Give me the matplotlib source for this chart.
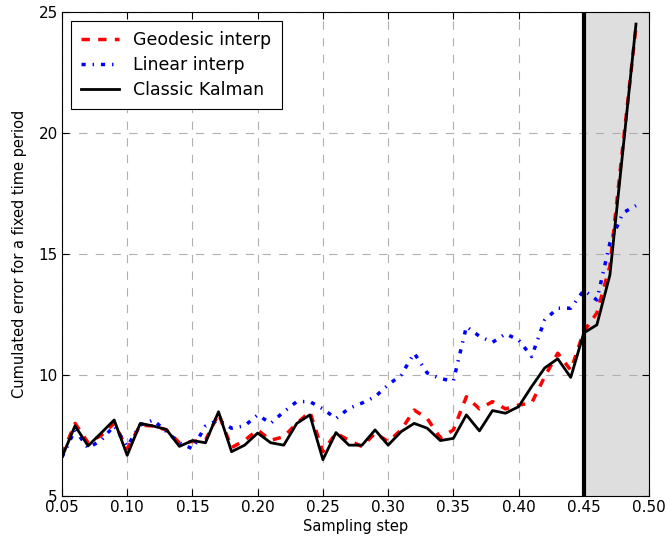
import matplotlib
matplotlib.use("Agg")
import matplotlib.pyplot as plt
import numpy as np

# sampling steps 0.05 .. 0.49
steps = np.round(np.arange(5, 50) / 100.0, 2)

geodesic = [6.7, 8.0, 7.2, 7.5, 8.0, 6.95, 7.93, 7.89, 7.73, 7.2, 7.25, 7.3, 8.4, 7.0, 7.3,
            7.73, 7.3, 7.45, 8.0, 8.48, 6.83, 7.6, 7.3, 7.04, 7.6, 7.25, 7.73, 8.55, 8.2,
            7.4, 7.73, 9.1, 8.6, 8.9, 8.6, 8.76, 8.84, 9.93, 10.9, 10.2, 11.8, 12.56, 14.5, 19.5, 24.4]
linear = [6.6, 7.73, 6.98, 7.3, 7.9, 7.05, 7.93, 8.14, 7.66, 7.2, 6.95, 7.89, 8.14, 7.8, 7.9,
          8.35, 8.0, 8.48, 8.9, 8.9, 8.6, 8.2, 8.62, 8.84, 9.1, 9.59, 10.0, 10.9, 10.08,
          9.85, 9.75, 12.0, 11.6, 11.35, 11.7, 11.45, 10.76, 12.27, 12.76, 12.76, 13.5, 13.1, 15.45, 16.7, 17.0]
kalman = [6.6, 7.9, 7.07, 7.6, 8.14, 6.68, 8.0, 7.89, 7.75, 7.05, 7.29, 7.2, 8.48, 6.83, 7.1,
          7.6, 7.2, 7.1, 8.0, 8.35, 6.5, 7.62, 7.1, 7.1, 7.73, 7.1, 7.66, 8.0, 7.8,
          7.29, 7.38, 8.35, 7.69, 8.53, 8.42, 8.69, 9.52, 10.29, 10.67, 9.9, 11.74, 12.07, 14.13, 19.3, 24.5]

split = 0.45
xticks = np.round(np.arange(5, 51, 5) / 100.0, 2)
yticks = [5, 10, 15, 20, 25]

plt.rcParams['lines.scale_dashes'] = False
plt.rcParams['font.family'] = ['DejaVu Sans']

fig = plt.figure(figsize=(6.65, 5.42), dpi=100)
ax = fig.add_axes([0.0932, 0.0849, 0.8828, 0.893])

ax.axvspan(split, 0.50, color='#dedede', lw=0)
ax.plot(steps, geodesic, color='red', lw=2.5, dashes=(6, 6), label='Geodesic interp')
ax.plot(steps, linear, color='blue', lw=2.5, dashes=(3, 5, 1, 5), label='Linear interp')
ax.plot(steps, kalman, color='black', lw=2, label='Classic Kalman')
ax.axvline(split, color='black', lw=3)

ax.set_xlim(0.05, 0.50)
ax.set_ylim(5, 25)
ax.set_xticks(xticks)
ax.set_xticklabels(['%.2f' % t for t in xticks])
ax.set_yticks(yticks)
ax.tick_params(direction='in', top=True, right=True, labelsize=11, length=5, pad=3)
ax.grid(True, color='#b0b0b0', linestyle=(0, (6, 6)), lw=0.8)

ax.set_xlabel('Sampling step', fontsize=10.5, labelpad=3)
ax.set_ylabel('Cumulated error for a fixed time period', fontsize=10.5, labelpad=8)

leg = ax.legend(loc='upper left', fontsize=12.5, fancybox=False, framealpha=1,
                edgecolor='black', handlelength=2.2, borderpad=0.6, labelspacing=0.4)
leg.get_frame().set_linewidth(0.8)

fig.savefig('out.png', dpi=100)
